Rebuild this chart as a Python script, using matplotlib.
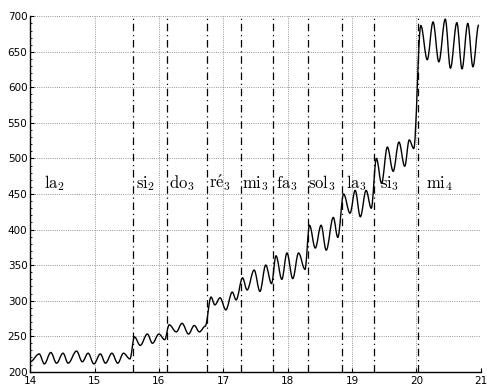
import matplotlib
matplotlib.use('Agg')
import matplotlib.pyplot as plt
from matplotlib.path import Path
from matplotlib.patches import PathPatch
from matplotlib.ticker import MultipleLocator

# Extrema of the pitch curve (time in s, frequency in Hz)
times = [14.00, 14.14, 14.22, 14.32, 14.41, 14.51, 14.59, 14.72, 14.81, 14.90, 14.99,
         15.09, 15.17, 15.27, 15.36, 15.45, 15.55,
         15.62, 15.71, 15.82, 15.90, 16.00, 16.09,
         16.16, 16.27, 16.36, 16.46, 16.55, 16.63, 16.72,
         16.81, 16.87, 16.95, 17.04, 17.14, 17.20,
         17.30, 17.37, 17.48, 17.57, 17.66, 17.75,
         17.82, 17.91, 17.99, 18.08, 18.17, 18.27,
         18.34, 18.43, 18.52, 18.60, 18.71, 18.78,
         18.87, 18.97, 19.05, 19.13, 19.22, 19.30,
         19.38, 19.46, 19.55, 19.64, 19.73, 19.82, 19.89, 19.96,
         20.07, 20.17, 20.26, 20.35, 20.45, 20.53, 20.63, 20.71, 20.80, 20.88, 20.97]
freqs = [214, 225, 211, 227, 212, 226, 212, 229, 214, 226, 211,
         225, 212, 226, 212, 226, 218,
         249, 237, 253, 240, 253, 245,
         266, 256, 268, 253, 265, 256, 264,
         305, 294, 304, 287, 312, 301,
         332, 315, 343, 313, 350, 324,
         363, 330, 367, 331, 367, 344,
         406, 374, 406, 371, 417, 389,
         450, 423, 455, 418, 455, 430,
         500, 465, 516, 482, 523, 489, 526, 514,
         687, 639, 692, 636, 696, 627, 691, 626, 690, 629, 688]

# Note boundaries and note names
boundaries = [15.60, 16.12, 16.74, 17.27, 17.78, 18.31, 18.84, 19.35, 20.02]
note_names = [r'$\mathrm{la}_2$', r'$\mathrm{si}_2$', r'$\mathrm{do}_3$', r'$\mathrm{r\acute{e}}_3$',
              r'$\mathrm{mi}_3$', r'$\mathrm{fa}_3$', r'$\mathrm{sol}_3$', r'$\mathrm{la}_3$',
              r'$\mathrm{si}_3$', r'$\mathrm{mi}_4$']
note_x = [14.22, 15.64, 16.15, 16.78, 17.29, 17.82, 18.32, 18.90, 19.44, 20.15]

plt.rcParams['mathtext.fontset'] = 'cm'

fig = plt.figure(figsize=(4.87, 3.88), dpi=100)
ax = fig.add_axes([0.062, 0.042, 0.925, 0.916])

# Smooth curve through the extrema (horizontal tangent at each one)
k = 0.36
verts = [(times[0], freqs[0])]
codes = [Path.MOVETO]
for i in range(1, len(times)):
    t0, v0 = times[i - 1], freqs[i - 1]
    t1, v1 = times[i], freqs[i]
    dt = t1 - t0
    verts += [(t0 + k * dt, v0), (t1 - k * dt, v1), (t1, v1)]
    codes += [Path.CURVE4] * 3
ax.add_patch(PathPatch(Path(verts, codes), fill=False, edgecolor='k', lw=1.0, zorder=3))

for b in boundaries:
    ax.axvline(b, color='k', ls='-.', lw=0.9, dashes=(6, 3, 1, 3), zorder=2)

for x, name in zip(note_x, note_names):
    ax.text(x, 458, name, fontsize=12, va='baseline', ha='left', zorder=4)

ax.set_xlim(14, 21)
ax.set_ylim(200, 700)
ax.set_xticks(range(14, 22))
ax.set_yticks(range(200, 701, 50))
ax.yaxis.set_minor_locator(MultipleLocator(10))
ax.grid(True, ls=':', color='0.45', lw=0.6)
ax.tick_params(direction='in', length=3, width=0.8, labelsize=7.5, pad=2)
ax.tick_params(which='minor', direction='in', length=1.5, width=0.6)
ax.tick_params(axis='x', pad=3)
for s in ['top', 'right']:
    ax.spines[s].set_visible(False)
for s in ['left', 'bottom']:
    ax.spines[s].set_linewidth(1.0)

fig.savefig('out.png', dpi=100)
